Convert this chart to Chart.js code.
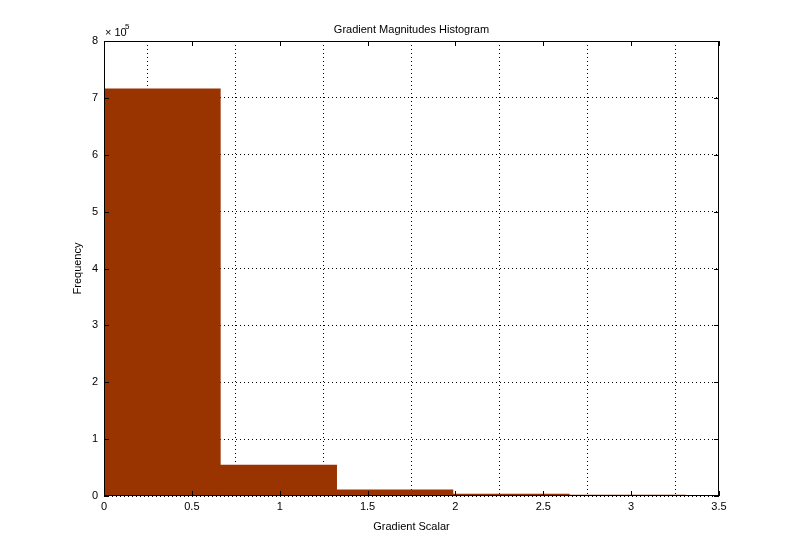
<!DOCTYPE html>
<html lang="en">
<head>
    <meta charset="UTF-8">
    <title>Gradient Magnitudes Histogram</title>
    <script src="https://cdn.jsdelivr.net/npm/chart.js@4/dist/chart.umd.min.js"></script>
    <style>
        body {
            margin: 0;
            background-color: #fff;
        }
        .chart-box {
            width: 795px;
            height: 558px;
        }
    </style>
</head>
<body>
    <div class="chart-box">
        <canvas id="histChart"></canvas>
    </div>

    <script>
        // histogram bins (bin centres on the gradient scalar axis) and counts
        const binCenters = [0.331, 0.993, 1.655, 2.317, 2.979];
        const binCounts = [716000, 54500, 11000, 3500, 1500];
        const xTicks = [0, 0.5, 1, 1.5, 2, 2.5, 3, 3.5];
        const yTicks = [0, 1, 2, 3, 4, 5, 6, 7, 8];  // x 10^5

        const FONT = '"Liberation Sans", Arial, sans-serif';

        // box, inward tick marks and the text around the axes
        const matlabAxes = {
            id: 'matlabAxes',
            afterDraw(chart) {
                const { ctx, chartArea: a, scales } = chart;
                ctx.save();
                ctx.strokeStyle = '#000';
                ctx.lineWidth = 1;
                ctx.strokeRect(a.left + 0.5, a.top + 0.5, a.right - a.left - 1, a.bottom - a.top - 1);

                const len = 5;
                ctx.beginPath();
                xTicks.forEach(v => {
                    const x = Math.round(scales.x.getPixelForValue(v)) + 0.5;
                    ctx.moveTo(x, a.bottom); ctx.lineTo(x, a.bottom - len);
                    ctx.moveTo(x, a.top); ctx.lineTo(x, a.top + len);
                });
                yTicks.forEach(v => {
                    const y = Math.round(scales.y.getPixelForValue(v * 1e5)) + 0.5;
                    ctx.moveTo(a.left, y); ctx.lineTo(a.left + len, y);
                    ctx.moveTo(a.right, y); ctx.lineTo(a.right - len, y);
                });
                ctx.stroke();

                ctx.fillStyle = '#000';
                ctx.font = '11px ' + FONT;
                ctx.textAlign = 'center';
                ctx.textBaseline = 'middle';
                ctx.fillText('Gradient Magnitudes Histogram', (a.left + a.right) / 2, 30);
                ctx.fillText('Gradient Scalar', (a.left + a.right) / 2, 527);

                ctx.save();
                ctx.translate(78, (a.top + a.bottom) / 2);
                ctx.rotate(-Math.PI / 2);
                ctx.fillText('Frequency', 0, 0);
                ctx.restore();

                ctx.textAlign = 'left';
                ctx.fillText('\u00d7 10', 105, 33);
                ctx.font = '8px ' + FONT;
                ctx.fillText('5', 125, 27);
                ctx.restore();
            }
        };

        const ctx = document.getElementById('histChart').getContext('2d');
        new Chart(ctx, {
            type: 'bar',
            data: {
                datasets: [{
                    label: 'Frequency',
                    data: binCenters.map((c, i) => ({ x: c, y: binCounts[i] })),
                    backgroundColor: '#993300',
                    borderWidth: 0,
                    barThickness: 'flex',
                    barPercentage: 1,
                    categoryPercentage: 1
                }]
            },
            options: {
                responsive: true,
                maintainAspectRatio: false,
                animation: false,
                layout: {
                    padding: { left: 0, top: 41, right: 76, bottom: 0 }
                },
                plugins: {
                    legend: { display: false },
                    tooltip: { enabled: false }
                },
                scales: {
                    x: {
                        type: 'linear',
                        min: 0,
                        max: 3.5,
                        offset: false,
                        afterFit: s => { s.height = 62; },
                        afterBuildTicks: s => { s.ticks = xTicks.map(v => ({ value: v })); },
                        grid: {
                            color: '#000',
                            lineWidth: 1,
                            drawTicks: false
                        },
                        border: { display: false, dash: [1, 3] },
                        ticks: {
                            color: '#000',
                            font: { family: FONT, size: 11 },
                            padding: 4,
                            maxRotation: 0,
                            callback: v => String(v)
                        }
                    },
                    y: {
                        min: 0,
                        max: 800000,
                        afterFit: s => { s.width = 104; },
                        afterBuildTicks: s => { s.ticks = yTicks.map(v => ({ value: v * 1e5 })); },
                        grid: {
                            color: '#000',
                            lineWidth: 1,
                            drawTicks: false
                        },
                        border: { display: false, dash: [1, 3] },
                        ticks: {
                            color: '#000',
                            font: { family: FONT, size: 11 },
                            padding: 6,
                            callback: v => String(v / 1e5)
                        }
                    }
                }
            },
            plugins: [matlabAxes]
        });
    </script>
</body>
</html>
